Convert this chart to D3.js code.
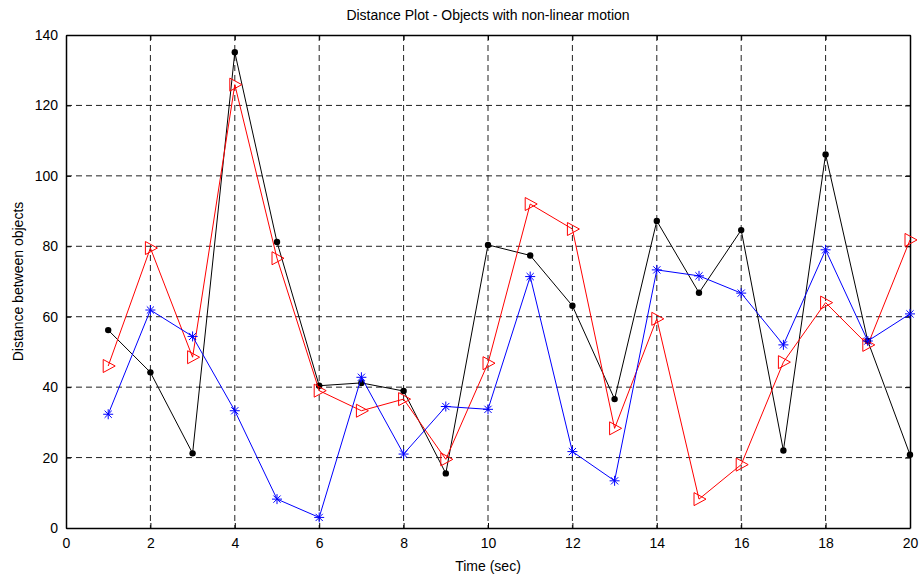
<!DOCTYPE html>
<html>
<head>
<meta charset="utf-8">
<script src="https://cdn.jsdelivr.net/npm/d3@7"></script>
<style>
  body { margin: 0; background: #fff; }
  text { font-family: "Liberation Sans", Arial, sans-serif; fill: #000; }
</style>
</head>
<body>
<div id="chart"></div>
<script>
// data
var times = [1, 2, 3, 4, 5, 6, 7, 8, 9, 10, 11, 12, 13, 14, 15, 16, 17, 18, 19, 20];
var blackSeries = [56.2, 44.2, 21.2, 135.1, 81.2, 40.4, 41.2, 38.9, 15.5, 80.4,
                   77.4, 63.1, 36.6, 87.2, 66.8, 84.6, 22.0, 106.1, 53.1, 20.8];
var redSeries = [46.0, 79.5, 48.5, 125.9, 76.6, 39.0, 33.3, 36.6, 19.5, 46.8,
                 92.0, 84.9, 28.3, 59.4, 8.2, 18.0, 47.1, 64.0, 52.0, 81.8];
var blueSeries = [32.3, 61.9, 54.4, 33.3, 8.2, 3.0, 42.8, 21.0, 34.5, 33.7,
                  71.4, 21.7, 13.4, 73.3, 71.6, 66.7, 52.0, 79.0, 53.1, 60.8];
var xTicks = [0, 2, 4, 6, 8, 10, 12, 14, 16, 18, 20];
var yTicks = [0, 20, 40, 60, 80, 100, 120, 140];

var svgWidth = 922;
var svgHeight = 580;
var margin = { top: 35, right: 12, bottom: 52, left: 66 };
var width = svgWidth - margin.left - margin.right;
var height = svgHeight - margin.top - margin.bottom;

var svg = d3.select('#chart')
  .append('svg')
  .attr('width', svgWidth)
  .attr('height', svgHeight);

var chartGroup = svg.append('g')
  .attr('transform', `translate(${margin.left}, ${margin.top})`);

var xScale = d3.scaleLinear().domain([0, 20]).range([0, width]);
var yScale = d3.scaleLinear().domain([0, 140]).range([height, 0]);

// grid lines
chartGroup.append('g')
  .selectAll('line')
  .data(xTicks.slice(1, -1))
  .enter()
  .append('line')
  .attr('x1', d => xScale(d)).attr('x2', d => xScale(d))
  .attr('y1', 0).attr('y2', height)
  .attr('stroke', '#222')
  .attr('stroke-width', 1)
  .attr('stroke-dasharray', '6,4');

chartGroup.append('g')
  .selectAll('line')
  .data(yTicks.slice(1, -1))
  .enter()
  .append('line')
  .attr('x1', 0).attr('x2', width)
  .attr('y1', d => yScale(d)).attr('y2', d => yScale(d))
  .attr('stroke', '#222')
  .attr('stroke-width', 1)
  .attr('stroke-dasharray', '6,4');

// axes with inward ticks
var bottomAxis = d3.axisBottom(xScale).tickValues(xTicks).tickSizeInner(-5).tickSizeOuter(0).tickPadding(10);
var leftAxis = d3.axisLeft(yScale).tickValues(yTicks).tickSizeInner(-5).tickSizeOuter(0).tickPadding(8);
var topAxis = d3.axisTop(xScale).tickValues(xTicks).tickSizeInner(-5).tickSizeOuter(0).tickFormat('');
var rightAxis = d3.axisRight(yScale).tickValues(yTicks).tickSizeInner(-5).tickSizeOuter(0).tickFormat('');

function styleAxis(g) {
  g.select('.domain').attr('stroke', '#000').attr('stroke-width', 1.5);
  g.selectAll('.tick line').attr('stroke', '#000');
  g.selectAll('.tick text').attr('font-size', 14).attr('font-family', '"Liberation Sans", Arial, sans-serif');
}

chartGroup.append('g').attr('transform', `translate(0, ${height})`).call(bottomAxis).call(styleAxis);
chartGroup.append('g').call(leftAxis).call(styleAxis);
chartGroup.append('g').call(topAxis).call(styleAxis);
chartGroup.append('g').attr('transform', `translate(${width}, 0)`).call(rightAxis).call(styleAxis);

// lines
var line = d3.line()
  .x((d, i) => xScale(times[i]))
  .y(d => yScale(d));

var series = [
  { values: blackSeries, color: '#000', marker: 'dot' },
  { values: redSeries, color: '#ff0000', marker: 'tri' },
  { values: blueSeries, color: '#0000ff', marker: 'star' }
];

series.forEach(function(s) {
  chartGroup.append('path')
    .datum(s.values)
    .attr('d', line)
    .attr('fill', 'none')
    .attr('stroke', s.color)
    .attr('stroke-width', 1);

  var pts = chartGroup.append('g').selectAll('g')
    .data(s.values)
    .enter()
    .append('g')
    .attr('transform', (d, i) => `translate(${xScale(times[i])}, ${yScale(d)})`);

  if (s.marker === 'dot') {
    pts.append('circle').attr('r', 3.2).attr('fill', s.color);
  } else if (s.marker === 'tri') {
    pts.append('path')
      .attr('d', 'M-5,-6.5 L7,0 L-5,6.5 Z')
      .attr('fill', 'none')
      .attr('stroke', s.color)
      .attr('stroke-width', 1);
  } else {
    pts.append('path')
      .attr('d', 'M-5,0 L5,0 M0,-5 L0,5 M-3.6,-3.6 L3.6,3.6 M-3.6,3.6 L3.6,-3.6')
      .attr('fill', 'none')
      .attr('stroke', s.color)
      .attr('stroke-width', 1);
  }
});

// title and labels
svg.append('text')
  .attr('x', margin.left + width / 2)
  .attr('y', 20)
  .attr('text-anchor', 'middle')
  .attr('font-size', 14)
  .text('Distance Plot - Objects with non-linear motion');

svg.append('text')
  .attr('x', margin.left + width / 2)
  .attr('y', 571)
  .attr('text-anchor', 'middle')
  .attr('font-size', 14)
  .text('Time (sec)');

svg.append('text')
  .attr('transform', `translate(23, ${margin.top + height / 2}) rotate(-90)`)
  .attr('text-anchor', 'middle')
  .attr('font-size', 14)
  .text('Distance between objects');
</script>
</body>
</html>
